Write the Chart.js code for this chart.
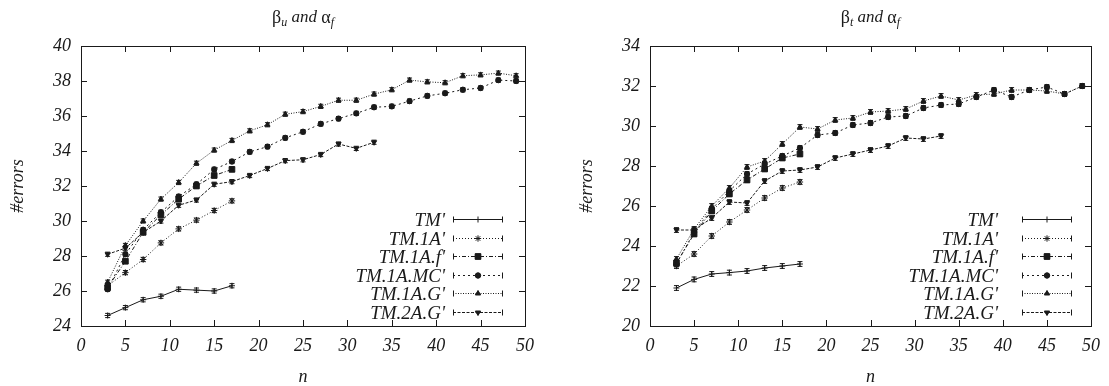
<!DOCTYPE html>
<html>
<head>
<meta charset="utf-8">
<script src="https://cdn.jsdelivr.net/npm/chart.js@4.4.0/dist/chart.umd.min.js"></script>
<style>
  html, body { margin: 0; padding: 0; background: #fff; }
  .row { display: flex; width: 1109px; height: 386px; }
  canvas { display: block; }
</style>
</head>
<body>
<div class="row">
  <canvas id="chartU" width="555" height="386"></canvas>
  <canvas id="chartT" width="554" height="386"></canvas>
</div>
<script>
// ── Dados ────────────────────────────────────────────────────────────────────
const nValues = [3, 5, 7, 9, 11, 13, 15, 17, 19, 21, 23, 25, 27, 29, 31, 33, 35, 37, 39, 41, 43, 45, 47, 49];
const xTicks = [0, 5, 10, 15, 20, 25, 30, 35, 40, 45, 50];
const seriesNames = ["TM'", "TM.1A'", "TM.1A.f'", "TM.1A.MC'", "TM.1A.G'", "TM.2A.G'"];

// βu and αf
const uTM    = [24.6, 25.05, 25.5, 25.7, 26.1, 26.05, 26.0, 26.3];
const u1A    = [26.3, 27.05, 27.8, 28.75, 29.55, 30.05, 30.6, 31.15];
const u1Af   = [26.2, 27.7, 29.35, 30.35, 31.25, 32.0, 32.6, 32.95];
const u1AMC  = [26.1, 28.1, 29.5, 30.5, 31.4, 32.1, 32.95, 33.4, 33.95, 34.25, 34.75, 35.1, 35.55, 35.85, 36.15, 36.5, 36.55, 36.85, 37.15, 37.3, 37.5, 37.6, 38.05, 38.0];
const u1AG   = [26.5, 28.6, 30.0, 31.25, 32.2, 33.3, 34.05, 34.6, 35.15, 35.5, 36.1, 36.25, 36.55, 36.9, 36.9, 37.25, 37.5, 38.05, 37.95, 37.9, 38.3, 38.35, 38.45, 38.3];
const u2AG   = [28.1, 28.45, 29.35, 30.0, 30.9, 31.2, 32.1, 32.25, 32.6, 33.0, 33.45, 33.5, 33.8, 34.4, 34.15, 34.5];
const uTicks = [24, 26, 28, 30, 32, 34, 36, 38, 40];
const uErr = 0.12;

// βt and αf
const tTM    = [21.9, 22.33, 22.6, 22.67, 22.75, 22.9, 23.0, 23.1];
const t1A    = [23.0, 23.6, 24.5, 25.2, 25.8, 26.4, 26.9, 27.2];
const t1Af   = [23.15, 24.6, 25.75, 26.6, 27.3, 27.85, 28.4, 28.6];
const t1AMC  = [23.1, 24.7, 25.85, 26.75, 27.6, 28.1, 28.5, 28.9, 29.55, 29.65, 30.05, 30.15, 30.45, 30.5, 30.9, 31.05, 31.1, 31.45, 31.8, 31.45, 31.8, 31.95, 31.6, 32.0];
const t1AG   = [23.35, 24.85, 26.0, 26.9, 27.95, 28.25, 29.1, 29.95, 29.85, 30.3, 30.4, 30.7, 30.75, 30.85, 31.25, 31.5, 31.3, 31.55, 31.6, 31.8, 31.8, 31.75, 31.6, 32.0];
const t2AG   = [24.8, 24.8, 25.4, 26.2, 26.15, 27.25, 27.75, 27.8, 27.95, 28.4, 28.6, 28.8, 29.0, 29.4, 29.35, 29.5];
const tTicks = [20, 22, 24, 26, 28, 30, 32, 34];
const tErr = 0.12;

// ── Estilos (estilo gnuplot) ─────────────────────────────────────────────────
const INK = '#1a1a1a';
const SERIF = '"Liberation Serif", "DejaVu Serif", serif';
const seriesStyle = [
    { dash: [],           point: 'cross',    radius: 3,   rot: 0 },
    { dash: [1, 2],       point: 'star',     radius: 3.2, rot: 0 },
    { dash: [4, 2, 1, 2], point: 'rect',     radius: 4,   rot: 0 },
    { dash: [2, 3],       point: 'circle',   radius: 2.7, rot: 0 },
    { dash: [1, 1.5],     point: 'triangle', radius: 3,   rot: 0 },
    { dash: [3, 1.5],     point: 'triangle', radius: 3,   rot: 180 },
];

function buildDatasets(values) {
    return values.map((vals, i) => {
        const st = seriesStyle[i];
        return {
            label: seriesNames[i],
            data: vals.map((v, k) => ({ x: nValues[k], y: v })),
            borderColor: INK,
            borderWidth: 1,
            borderDash: st.dash,
            pointStyle: st.point,
            pointRadius: st.radius,
            pointRotation: st.rot,
            pointBackgroundColor: INK,
            pointBorderColor: INK,
            pointBorderWidth: 1,
            tension: 0,
            fill: false,
        };
    });
}

// ── Plugins ──────────────────────────────────────────────────────────────────
// caixa + marcas de tick para dentro
const frameTicks = {
    id: 'frameTicks',
    afterDraw(chart) {
        const { ctx, chartArea: a, scales } = chart;
        const len = 6;
        ctx.save();
        ctx.strokeStyle = INK;
        ctx.lineWidth = 1;
        ctx.strokeRect(a.left + 0.5, a.top + 0.5, a.right - a.left, a.bottom - a.top);
        ctx.beginPath();
        scales.x.ticks.forEach(t => {
            const px = Math.round(scales.x.getPixelForValue(t.value)) + 0.5;
            ctx.moveTo(px, a.bottom); ctx.lineTo(px, a.bottom - len);
            ctx.moveTo(px, a.top);    ctx.lineTo(px, a.top + len);
        });
        scales.y.ticks.forEach(t => {
            const py = Math.round(scales.y.getPixelForValue(t.value)) + 0.5;
            ctx.moveTo(a.left, py);  ctx.lineTo(a.left + len, py);
            ctx.moveTo(a.right, py); ctx.lineTo(a.right - len, py);
        });
        ctx.stroke();
        ctx.restore();
    }
};

const errorBars = {
    id: 'errorBars',
    afterDatasetsDraw(chart, args, opts) {
        const { ctx, scales } = chart;
        ctx.save();
        ctx.strokeStyle = INK;
        ctx.lineWidth = 1;
        chart.data.datasets.forEach((ds, i) => {
            const meta = chart.getDatasetMeta(i);
            meta.data.forEach((pt, k) => {
                const v = ds.data[k].y;
                const y1 = scales.y.getPixelForValue(v - opts.half);
                const y2 = scales.y.getPixelForValue(v + opts.half);
                ctx.beginPath();
                ctx.moveTo(pt.x, y1); ctx.lineTo(pt.x, y2);
                ctx.moveTo(pt.x - 2.5, y1); ctx.lineTo(pt.x + 2.5, y1);
                ctx.moveTo(pt.x - 2.5, y2); ctx.lineTo(pt.x + 2.5, y2);
                ctx.stroke();
            });
        });
        ctx.restore();
    }
};

// título com subscritos
const plotTitle = {
    id: 'plotTitle',
    afterDraw(chart, args, opts) {
        const { ctx, chartArea: a } = chart;
        const parts = [
            { t: 'β',      font: `18px ${SERIF}`,        dy: 0 },
            { t: opts.sub, font: `italic 12px ${SERIF}`, dy: 5 },
            { t: ' and ',  font: `italic 17px ${SERIF}`, dy: 0 },
            { t: 'α',      font: `18px ${SERIF}`,        dy: 0 },
            { t: 'f',      font: `italic 12px ${SERIF}`, dy: 5 },
        ];
        ctx.save();
        ctx.fillStyle = INK;
        ctx.textBaseline = 'middle';
        let total = 0;
        parts.forEach(p => { ctx.font = p.font; p.w = ctx.measureText(p.t).width; total += p.w; });
        let x = (a.left + a.right) / 2 - total / 2;
        parts.forEach(p => {
            ctx.font = p.font;
            ctx.fillText(p.t, x, 18 + p.dy);
            x += p.w;
        });
        ctx.restore();
    }
};

const legendBox = {
    id: 'legendBox',
    afterDraw(chart, args, opts) {
        const { ctx, chartArea: a } = chart;
        ctx.save();
        chart.data.datasets.forEach((ds, i) => {
            const y = Math.round(a.bottom - 107 + i * 18.6) + 0.5;
            const x1 = a.right - opts.lineStart;
            const x2 = a.right - opts.lineEnd;
            ctx.fillStyle = INK;
            ctx.font = `italic 19px ${SERIF}`;
            ctx.textAlign = 'right';
            ctx.textBaseline = 'middle';
            ctx.fillText(ds.label, a.right - opts.textOffset, y + 1);

            ctx.strokeStyle = INK;
            ctx.lineWidth = 1;
            ctx.setLineDash(ds.borderDash);
            ctx.beginPath();
            ctx.moveTo(x1, y); ctx.lineTo(x2, y);
            ctx.stroke();
            ctx.setLineDash([]);
            ctx.beginPath();
            ctx.moveTo(x1 + 0.5, y - 3); ctx.lineTo(x1 + 0.5, y + 3);
            ctx.moveTo(x2 - 0.5, y - 3); ctx.lineTo(x2 - 0.5, y + 3);
            ctx.stroke();
            Chart.helpers.drawPoint(ctx, {
                pointStyle: ds.pointStyle,
                radius: ds.pointRadius,
                rotation: ds.pointRotation,
                borderWidth: 1,
            }, (x1 + x2) / 2, y);
            ctx.fill();
        });
        ctx.restore();
    }
};

// ── Gráficos ─────────────────────────────────────────────────────────────────
function makeChart(canvasId, cfg) {
    const tickFont = { family: SERIF, size: 18, style: 'italic' };
    const titleFont = { family: SERIF, size: 18, style: 'italic' };
    return new Chart(document.getElementById(canvasId), {
        type: 'line',
        data: { datasets: buildDatasets(cfg.values) },
        options: {
            responsive: false,
            animation: false,
            layout: { padding: { top: 46, left: cfg.padLeft, right: cfg.padRight, bottom: 0 } },
            plugins: {
                legend: { display: false },
                tooltip: { enabled: false },
                errorBars: { half: cfg.err },
                plotTitle: { sub: cfg.sub },
                legendBox: cfg.legend,
            },
            scales: {
                x: {
                    type: 'linear', min: 0, max: 50,
                    afterBuildTicks: s => { s.ticks = xTicks.map(v => ({ value: v })); },
                    ticks: { font: tickFont, color: INK, padding: 9, maxRotation: 0 },
                    grid: { display: false, drawTicks: false },
                    border: { display: false },
                    title: { display: true, text: 'n', font: titleFont, color: INK, padding: { top: 0, bottom: -2 } },
                    afterFit: s => { s.height = 60; },
                },
                y: {
                    type: 'linear', min: cfg.yTicks[0], max: cfg.yTicks[cfg.yTicks.length - 1],
                    afterBuildTicks: s => { s.ticks = cfg.yTicks.map(v => ({ value: v })); },
                    ticks: { font: tickFont, color: INK, padding: 10 },
                    grid: { display: false, drawTicks: false },
                    border: { display: false },
                    title: { display: true, text: '#errors', font: titleFont, color: INK, padding: { top: 7, bottom: 0 } },
                    afterFit: s => { s.width = 81; },
                }
            }
        },
        plugins: [frameTicks, errorBars, plotTitle, legendBox]
    });
}

document.addEventListener('DOMContentLoaded', () => {
    makeChart('chartU', {
        values: [uTM, u1A, u1Af, u1AMC, u1AG, u2AG],
        yTicks: uTicks, err: uErr, sub: 'u',
        padLeft: 0, padRight: 30,
        legend: { textOffset: 80, lineStart: 72, lineEnd: 22 },
    });
    makeChart('chartT', {
        values: [tTM, t1A, t1Af, t1AMC, t1AG, t2AG],
        yTicks: tTicks, err: tErr, sub: 't',
        padLeft: 14, padRight: 16,
        legend: { textOffset: 93, lineStart: 69, lineEnd: 19 },
    });
});
</script>
</body>
</html>
